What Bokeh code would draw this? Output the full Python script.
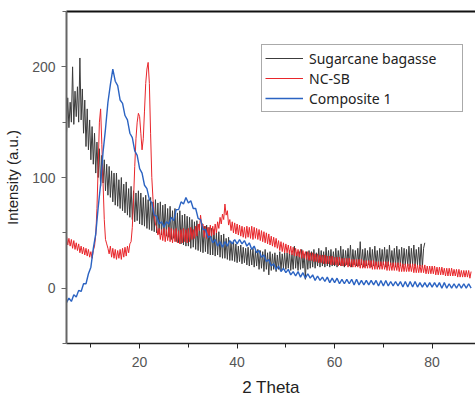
import numpy as np
from bokeh.plotting import figure
from bokeh.models import LinearAxis, Legend, LegendItem, Range1d, FixedTicker
from bokeh.embed import file_html
from bokeh.resources import INLINE

# 2-theta grids
theta_start = 5.0
fine_step = 0.25
coarse_step = 0.5

# Sugarcane bagasse, 0.25 degree step from 5 to 78.5
sugarcane = [
    140, 172, 145, 168, 150, 200, 148, 178, 155, 182, 150, 208, 152, 180, 140, 170, 128, 162, 125, 152,
    116, 146, 112, 140, 104, 132, 100, 126, 92, 120, 95, 116, 88, 112, 84, 110, 82, 106, 78, 104,
    75, 104, 74, 98, 72, 100, 70, 94, 68, 96, 66, 90, 64, 92, 62, 88, 60, 86, 61, 88,
    58, 86, 57, 82, 56, 84, 54, 80, 53, 82, 52, 78, 51, 80, 50, 77, 49, 78, 48, 75,
    50, 76, 47, 72, 46, 74, 44, 70, 45, 72, 42, 68, 41, 70, 40, 66, 39, 67, 38, 65,
    38, 64, 36, 62, 37, 60, 35, 61, 34, 58, 33, 59, 32, 56, 33, 57, 31, 55, 30, 54,
    30, 53, 29, 50, 30, 51, 28, 48, 27, 49, 27, 45, 26, 46, 25, 42, 25, 43, 24, 40,
    23, 38, 24, 39, 22, 37, 23, 36, 21, 37, 20, 35, 21, 36, 19, 34, 20, 35, 17, 34,
    18, 33, 15, 35, 17, 32, 12, 33, 16, 31, 17, 32, 15, 30, 17, 33, 16, 31, 18, 32,
    17, 32, 18, 34, 16, 31, 17, 38, 18, 32, 16, 33, 17, 35, 18, 31, 8, 33, 17, 34,
    18, 33, 19, 35, 18, 32, 20, 36, 19, 34, 20, 33, 19, 37, 20, 34, 19, 35, 20, 33,
    20, 36, 19, 34, 21, 38, 20, 35, 19, 34, 21, 36, 20, 39, 19, 35, 21, 34, 20, 36,
    20, 42, 21, 35, 19, 36, 20, 34, 21, 37, 19, 35, 20, 38, 21, 34, 19, 36, 20, 35,
    21, 37, 19, 35, 20, 39, 21, 34, 20, 36, 19, 38, 21, 35, 20, 37, 19, 36, 21, 35,
    20, 38, 19, 36, 21, 39, 20, 35, 21, 37, 20, 40, 19, 36, 41,
]

# NC-SB, 0.25 degree step from 5 to 88
nc_sb = [
    47, 39, 45, 38, 44, 36, 43, 35, 41, 34, 40, 32, 38, 31, 37, 30, 36, 29, 35, 28,
    33, 27, 34, 38, 48, 72, 110, 150, 162, 130, 95, 62, 44, 40, 36, 31, 38, 28, 36, 27,
    35, 26, 34, 27, 35, 26, 36, 28, 37, 29, 38, 32, 40, 42, 55, 80, 110, 135, 150, 158,
    155, 140, 125, 135, 160, 185, 198, 204, 185, 140, 100, 80, 65, 58, 55, 48, 54, 44, 53, 43,
    54, 42, 53, 43, 55, 42, 54, 41, 53, 42, 54, 41, 52, 40, 53, 41, 54, 42, 53, 41,
    54, 42, 55, 44, 53, 45, 56, 47, 58, 52, 66, 56, 58, 46, 56, 45, 55, 46, 57, 47,
    56, 48, 58, 50, 60, 54, 64, 58, 67, 62, 76, 66, 70, 57, 62, 52, 60, 50, 59, 49,
    58, 48, 57, 47, 56, 46, 55, 45, 56, 46, 55, 45, 56, 44, 55, 45, 54, 44, 53, 43,
    52, 42, 51, 41, 50, 40, 49, 39, 47, 38, 46, 37, 45, 36, 43, 34, 42, 33, 41, 32,
    40, 32, 39, 31, 38, 30, 37, 29, 36, 29, 35, 28, 35, 27, 34, 27, 33, 26, 33, 25,
    32, 25, 32, 24, 31, 24, 31, 23, 30, 23, 30, 22, 30, 22, 29, 22, 29, 21, 29, 21,
    28, 21, 28, 20, 28, 20, 27, 20, 27, 20, 27, 19, 27, 19, 26, 19, 26, 19, 26, 19,
    26, 18, 26, 18, 25, 18, 25, 18, 25, 18, 25, 17, 25, 17, 24, 17, 24, 17, 24, 17,
    24, 17, 24, 16, 24, 16, 23, 16, 23, 16, 23, 16, 23, 15, 23, 15, 22, 15, 22, 15,
    22, 15, 22, 15, 22, 14, 22, 14, 21, 14, 21, 14, 21, 14, 21, 13, 20, 13, 20, 13,
    20, 13, 20, 12, 19, 12, 19, 12, 19, 12, 18, 11, 18, 11, 18, 11, 18, 11, 17, 11,
    17, 10, 17, 10, 16, 10, 16, 10, 16, 10, 16, 9, 15,
]

# Composite 1, 0.5 degree step from 5 to 88
composite1 = [
    -13, -9, -12, -6, -8, -2, -3, 4, 4, 13,
    19, 36, 49, 73, 94, 123, 144, 168, 184, 198,
    187, 183, 170, 167, 156, 152, 140, 136, 124, 120,
    108, 104, 93, 90, 80, 77, 66, 65, 58, 60,
    55, 60, 58, 64, 61, 71, 71, 78, 76, 82,
    77, 79, 72, 72, 63, 62, 53, 53, 46, 47,
    41, 44, 38, 42, 37, 42, 38, 43, 40, 44,
    40, 44, 40, 43, 38, 41, 35, 38, 32, 34,
    28, 30, 24, 26, 20, 22, 17, 20, 15, 18,
    14, 17, 12, 15, 11, 15, 10, 14, 9, 13,
    9, 12, 7, 11, 7, 10, 6, 10, 5, 9,
    5, 9, 4, 8, 4, 8, 4, 8, 3, 8,
    3, 7, 3, 7, 3, 7, 3, 7, 2, 7,
    2, 7, 2, 6, 2, 6, 2, 6, 1, 6,
    1, 6, 1, 6, 1, 5, 1, 5, 1, 5,
    1, 5, 1, 5, 0, 5, 0, 4, 0, 4,
    0, 4, 0, 4, 0, 4, 0,
]

series_names = ["Sugarcane bagasse", "NC-SB", "Composite 1"]
series_colors = ["#3c3c3c", "#e8262b", "#2b63c2"]
series_steps = [fine_step, fine_step, coarse_step]
series_widths = [1.0, 1.0, 1.4]

x_ticks = [20, 40, 60, 80]
x_minor = [10, 30, 50, 70, 90]
y_ticks = [0, 100, 200]
y_minor = [-50, 50, 150, 250]


def grid(n, step):
    return theta_start + step * np.arange(n)


p = figure(width=475, height=399, output_backend="svg", toolbar_location=None,
           x_range=Range1d(5, 88.9), y_range=Range1d(-50, 250),
           min_border_left=66, min_border_top=11, min_border_right=0, min_border_bottom=55)
p.xgrid.visible = False
p.ygrid.visible = False
p.outline_line_color = None
p.background_fill_color = "white"
p.border_fill_color = "white"

renderers = []
for ys, name, col, st, lw in zip([sugarcane, nc_sb, composite1], series_names,
                                 series_colors, series_steps, series_widths):
    r = p.line(grid(len(ys), st), ys, line_color=col, line_width=lw)
    renderers.append(r)

tick_font = "Liberation Sans"
p.xaxis.ticker = FixedTicker(ticks=x_ticks, minor_ticks=x_minor)
p.yaxis.ticker = FixedTicker(ticks=y_ticks, minor_ticks=y_minor)

p.xaxis.axis_label = "2 Theta"
p.yaxis.axis_label = "Intensity (a.u.)"
for ax in [p.xaxis[0], p.yaxis[0]]:
    ax.major_label_text_font = tick_font
    ax.major_label_text_font_size = "14px"
    ax.major_label_text_color = "#555555"
    ax.axis_label_text_font = tick_font
    ax.axis_label_text_font_style = "normal"
    ax.axis_label_text_color = "#222222"
    ax.major_tick_in = 0
    ax.major_tick_out = 5
    ax.minor_tick_in = 0
    ax.minor_tick_out = 4
    ax.major_label_standoff = 6
    ax.axis_label_standoff = 8
p.xaxis.axis_label_text_font_size = "17px"
p.yaxis.axis_label_text_font_size = "15px"
p.xaxis.axis_line_color = "#222222"
p.xaxis.major_tick_line_color = "#222222"
p.xaxis.minor_tick_line_color = "#222222"
p.xaxis.axis_line_width = 1.5
p.yaxis.axis_line_color = "#666666"
p.yaxis.major_tick_line_color = "#666666"
p.yaxis.minor_tick_line_color = "#666666"
p.yaxis.axis_line_width = 2
p.xaxis.major_label_standoff = 8

top = LinearAxis(major_tick_in=0, major_tick_out=0, minor_tick_in=0, minor_tick_out=0,
                 major_label_text_font_size="0px", axis_line_color="#111111", axis_line_width=2)
top.ticker = FixedTicker(ticks=[])
p.add_layout(top, "above")

legend = Legend(items=[LegendItem(label=n, renderers=[r]) for n, r in zip(series_names, renderers)],
                location=(195, 231))
legend.label_text_font = "Noto Sans"
legend.label_text_font_size = "14px"
legend.label_text_color = "#222222"
legend.glyph_width = 38
legend.glyph_height = 20
legend.label_height = 20
legend.label_width = 150
legend.label_standoff = 6
legend.spacing = 0
legend.padding = 3
legend.margin = 0
legend.border_line_color = "#555555"
legend.border_line_width = 1
legend.background_fill_alpha = 1
p.add_layout(legend, "center")

open("out.html", "w").write(file_html(p, INLINE))
